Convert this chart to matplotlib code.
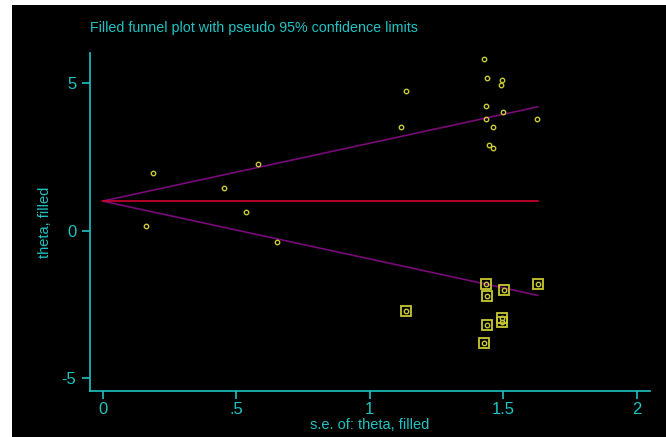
import matplotlib
matplotlib.use("Agg")
import matplotlib.pyplot as plt
from matplotlib.patches import Rectangle

# observed studies (se, theta)
se_obs = [1.427, 1.440, 1.495, 1.492, 1.137, 1.437, 1.501, 1.116, 1.435, 1.628,
          1.461, 1.448, 1.461, 0.190, 0.582, 0.453, 0.537, 0.163, 0.652]
th_obs = [5.80, 5.18, 5.09, 4.93, 4.74, 4.21, 4.00, 3.50, 3.79, 3.79,
          3.50, 2.91, 2.79, 1.96, 2.26, 1.43, 0.63, 0.14, -0.38]

# filled (imputed) studies
se_fill = [1.436, 1.502, 1.630, 1.438, 1.137, 1.494, 1.497, 1.441, 1.428]
th_fill = [-1.80, -2.01, -1.80, -2.21, -2.73, -2.94, -3.10, -3.19, -3.80]

# pooled estimate and pseudo 95% limits
se_line = [0, 1.63]
pooled = [1.0, 1.0]
upper = [1.0, 4.19]
lower = [1.0, -2.19]

cyan = '#1fc3c3'
yellow = '#c8c832'
plt.rcParams['font.family'] = ['Liberation Sans', 'DejaVu Sans']
plt.rcParams['axes.unicode_minus'] = False

fig = plt.figure(figsize=(6.66, 4.37), dpi=100)
fig.patch.set_facecolor('white')
bg = Rectangle((12 / 666, 0), 1, 1 - 5 / 437, transform=fig.transFigure,
               facecolor='black', edgecolor='none', zorder=-10)
fig.patches.append(bg)

ax = fig.add_axes([0.1344, 0.105, 0.8416, 0.773])
ax.set_facecolor('none')
ax.set_zorder(5)

ax.plot(se_line, upper, color='#780a78', lw=1.2)
ax.plot(se_line, lower, color='#780a78', lw=1.2)
ax.plot(se_line, pooled, color='#d0002c', lw=1.2)

ax.plot(se_obs, th_obs, 'o', mfc='none', mec=yellow, ms=3.2, mew=1.0)
ax.plot(se_fill, th_fill, 's', mfc='none', mec=yellow, ms=7.5, mew=1.3)
ax.plot(se_fill, th_fill, 'o', mfc='none', mec=yellow, ms=3.2, mew=1.0)

ax.set_xlim(-0.049, 2.05)
ax.set_ylim(-5.43, 6.0)
ax.set_xticks([0, 0.5, 1, 1.5, 2])
ax.set_xticklabels(['0', '.5', '1', '1.5', '2'])
ax.set_yticks([-5, 0, 5])

for s in ['top', 'right']:
    ax.spines[s].set_visible(False)
for s in ['left', 'bottom']:
    ax.spines[s].set_color(cyan)
    ax.spines[s].set_linewidth(1.2)
ax.tick_params(colors=cyan, labelsize=12, length=6, width=1.2)
ax.tick_params(axis='x', pad=2)

ax.set_xlabel('s.e. of: theta, filled', color=cyan, fontsize=10.5, labelpad=0.5)
ax.set_ylabel('theta, filled', color=cyan, fontsize=10.5, labelpad=7)
fig.text(90 / 666, 1 - 28 / 437, 'Filled funnel plot with pseudo 95% confidence limits',
         color=cyan, fontsize=10.3, va='center', ha='left')

fig.savefig('out.png', dpi=100, facecolor=fig.get_facecolor())
